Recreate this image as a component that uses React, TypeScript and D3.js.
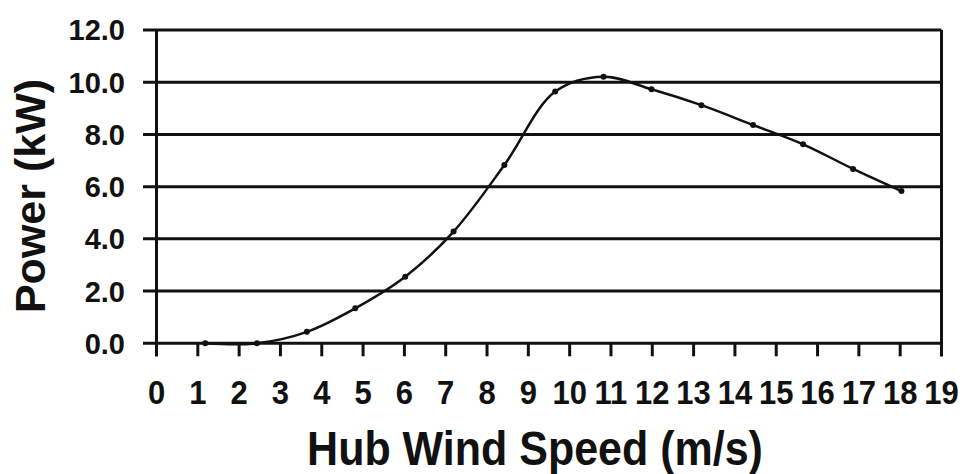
import { useEffect, useRef } from 'react'
import * as d3 from 'd3'

const windSpeed = [1.18, 2.43, 3.64, 4.81, 6.02, 7.19, 8.42, 9.65, 10.82, 11.98, 13.19, 14.44, 15.65, 16.86, 18.03]
const power = [0.0, 0.0, 0.44, 1.34, 2.55, 4.28, 6.83, 9.64, 10.21, 9.73, 9.12, 8.36, 7.62, 6.68, 5.83]
const xTicks = d3.range(0, 20)
const yTicks = [0, 2, 4, 6, 8, 10, 12]

const FONT = '"Liberation Sans", Arial, sans-serif'

export default function App() {
  const svgRef = useRef<SVGSVGElement>(null)

  useEffect(() => {
    if (!svgRef.current) return
    const svg = d3.select(svgRef.current)
    svg.selectAll('*').remove()

    const x = d3.scaleLinear().domain([0, 19]).range([156.5, 941.5])
    const y = d3.scaleLinear().domain([0, 12]).range([343.3, 30])

    // horizontal grid lines (incl. 0 and 12) with outside tick stubs
    svg.append('g').selectAll('line').data(yTicks).join('line')
      .attr('x1', 143).attr('x2', x(19))
      .attr('y1', d => y(d)).attr('y2', d => y(d))
      .attr('stroke', '#111').attr('stroke-width', 3)

    // left and right frame
    svg.append('line')
      .attr('x1', x(0)).attr('x2', x(0)).attr('y1', y(12)).attr('y2', y(0) + 13)
      .attr('stroke', '#111').attr('stroke-width', 3)
    svg.append('line')
      .attr('x1', x(19)).attr('x2', x(19)).attr('y1', y(12)).attr('y2', y(0) + 13)
      .attr('stroke', '#111').attr('stroke-width', 3)

    // x ticks
    svg.append('g').selectAll('line').data(xTicks).join('line')
      .attr('x1', d => x(d)).attr('x2', d => x(d))
      .attr('y1', y(0)).attr('y2', y(0) + 13)
      .attr('stroke', '#111').attr('stroke-width', 3)

    // x tick labels
    svg.append('g').selectAll('text').data(xTicks).join('text')
      .attr('transform', d => `translate(${x(d)},404) scale(1,1.1)`)
      .attr('text-anchor', 'middle')
      .attr('font-family', FONT).attr('font-weight', 'bold').attr('font-size', 31)
      .attr('fill', '#111')
      .text(d => String(d))

    // y tick labels
    svg.append('g').selectAll('text').data(yTicks).join('text')
      .attr('x', 125).attr('y', d => y(d)).attr('dy', '0.36em')
      .attr('text-anchor', 'end')
      .attr('font-family', FONT).attr('font-weight', 'bold').attr('font-size', 29)
      .attr('fill', '#111')
      .text(d => d.toFixed(1))

    // power curve
    const pts = windSpeed.map((w, i) => [w, power[i]] as [number, number])
    svg.append('path')
      .datum(pts)
      .attr('fill', 'none').attr('stroke', '#111').attr('stroke-width', 2.5)
      .attr('d', d3.line<[number, number]>()
        .x(d => x(d[0])).y(d => y(d[1]))
        .curve(d3.curveCatmullRom.alpha(0.5)))

    svg.append('g').selectAll('circle').data(pts).join('circle')
      .attr('cx', d => x(d[0])).attr('cy', d => y(d[1])).attr('r', 3)
      .attr('fill', '#111')

    // axis titles
    svg.append('text')
      .attr('transform', 'translate(535,465) scale(1,1.1)')
      .attr('text-anchor', 'middle')
      .attr('font-family', FONT).attr('font-weight', 'bold').attr('font-size', 43)
      .attr('fill', '#111')
      .text('Hub Wind Speed (m/s)')

    svg.append('text')
      .attr('transform', 'translate(45,196) rotate(-90)')
      .attr('text-anchor', 'middle')
      .attr('font-family', FONT).attr('font-weight', 'bold').attr('font-size', 43)
      .attr('fill', '#111')
      .text('Power (kW)')
  }, [])

  return (
    <svg ref={svgRef} width={962} height={474}
      style={{ position: 'absolute', left: 0, top: 0, background: '#fff' }} />
  )
}
